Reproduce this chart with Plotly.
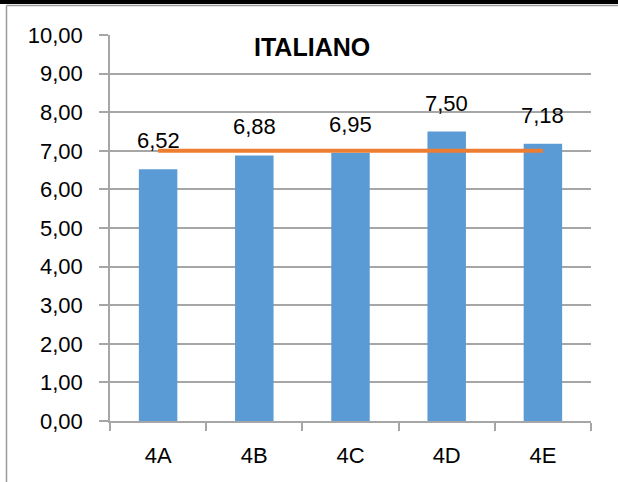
import plotly.graph_objects as go

categories = ["4A", "4B", "4C", "4D", "4E"]
values = [6.52, 6.88, 6.95, 7.50, 7.18]
average = [7.00, 7.00, 7.00, 7.00, 7.00]
y_ticks = [0, 1, 2, 3, 4, 5, 6, 7, 8, 9, 10]
y_tick_labels = [f"{t:.2f}".replace(".", ",") for t in y_ticks]
title_text = "ITALIANO"

W, H = 618, 482
L, R, T, B = 110, 27, 35, 61
pw, ph = W - L - R, H - T - B

def px(xp):
    return (xp - L) / pw

def py(yp):
    return (H - B - yp) / ph

FONT = "Liberation Sans, Arial, sans-serif"
GRID = "#A6A6A6"

fig = go.Figure()
fig.add_trace(go.Bar(x=categories, y=values, marker=dict(color="#5B9BD5", line=dict(width=0)),
                     hoverinfo="x+y", showlegend=False))
fig.add_trace(go.Scatter(x=categories, y=average, mode="lines",
                         line=dict(color="#ED7D31", width=4), showlegend=False))

annotations = []
for c, v in zip(categories, values):
    annotations.append(dict(x=c, y=v, xref="x", yref="y", text=f"{v:.2f}".replace(".", ","),
                            showarrow=False, yanchor="bottom", yshift=14,
                            font=dict(family=FONT, size=22, color="black")))
annotations.append(dict(x=px(312), y=py(47), xref="paper", yref="paper", text=f"<b>{title_text}</b>",
                        showarrow=False, xanchor="center", yanchor="middle",
                        font=dict(family=FONT, size=25, color="black")))

shapes = [
    dict(type="rect", xref="paper", yref="paper", x0=px(0), x1=px(W), y0=py(4), y1=py(0),
         fillcolor="black", line=dict(width=0), layer="above"),
    dict(type="line", xref="paper", yref="paper", x0=px(6.5), x1=px(W), y0=py(5.5), y1=py(5.5),
         line=dict(color="#9A9A9A", width=1.5)),
    dict(type="line", xref="paper", yref="paper", x0=px(6.5), x1=px(6.5), y0=py(5.5), y1=py(H),
         line=dict(color="#9A9A9A", width=1.5)),
]

fig.update_layout(
    width=W, height=H,
    margin=dict(l=L, r=R, t=T, b=B, pad=0, autoexpand=False),
    paper_bgcolor="white", plot_bgcolor="white",
    bargap=0.6,
    font=dict(family=FONT, size=22, color="black"),
    annotations=annotations,
    shapes=shapes,
    showlegend=False,
)
fig.update_xaxes(type="category", showline=True, linecolor=GRID, linewidth=1.5,
                 ticks="outside", tickson="boundaries", ticklen=8, tickcolor=GRID, tickwidth=1.5,
                 showgrid=False, ticklabelstandoff=14, automargin=False,
                 tickfont=dict(family=FONT, size=22, color="black"))
fig.update_yaxes(range=[0, 10], tickvals=y_ticks, ticktext=y_tick_labels,
                 showline=True, linecolor=GRID, linewidth=1.5,
                 showgrid=True, gridcolor=GRID, gridwidth=1.5, zeroline=False,
                 ticks="outside", ticklen=9, tickcolor=GRID, tickwidth=1.5,
                 ticklabelstandoff=12, automargin=False,
                 tickfont=dict(family=FONT, size=22, color="black"))

fig.write_html("out.html", config={"displayModeBar": False},
               post_script="document.body.style.margin='0';document.body.style.overflow='hidden';")
